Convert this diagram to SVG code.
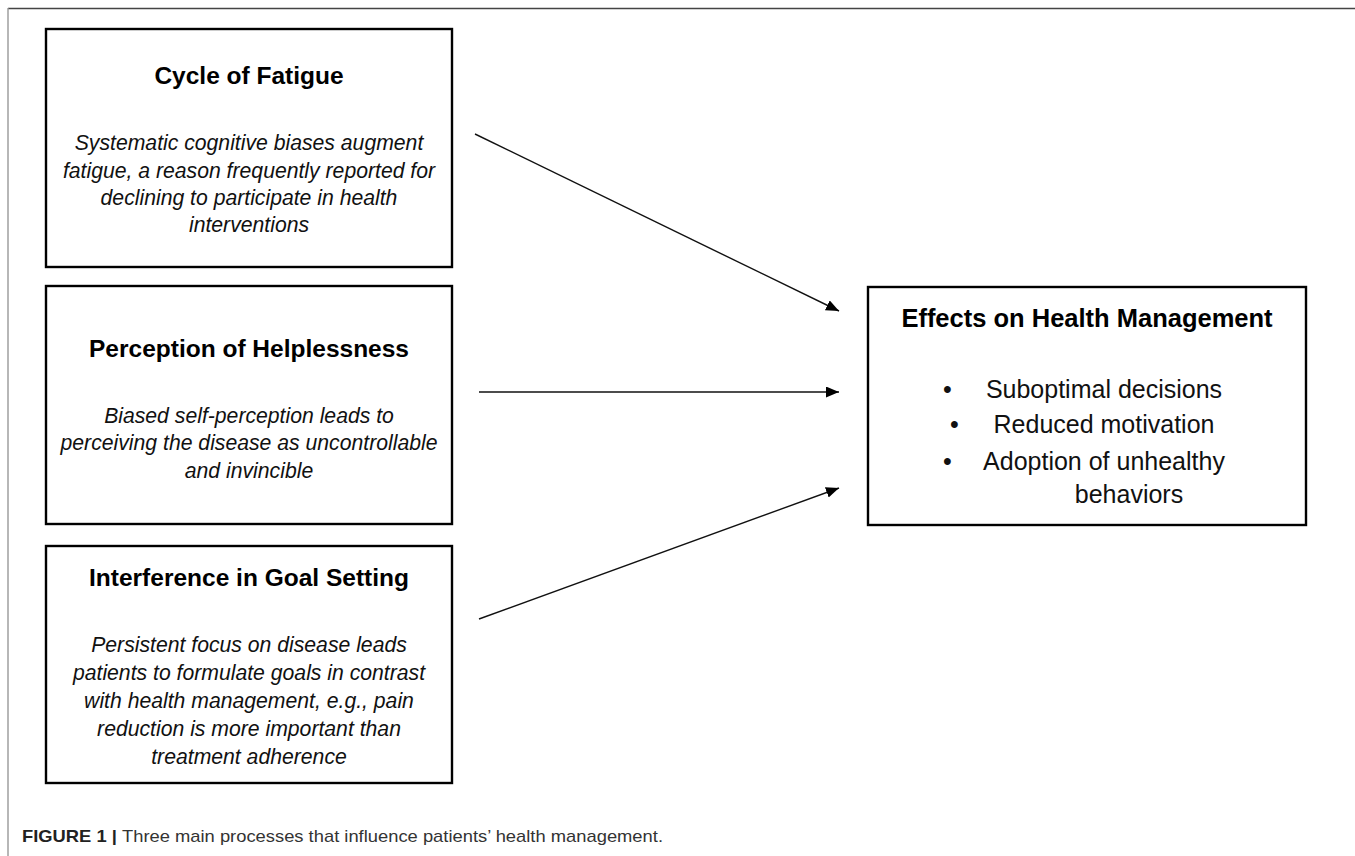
<svg xmlns="http://www.w3.org/2000/svg" width="1355" height="856" viewBox="0 0 1355 856">
<style>
.box{fill:#fff;stroke:#000;stroke-width:2.4}
.t{font-family:"Liberation Sans",Arial,sans-serif;font-weight:bold;font-size:24.5px;fill:#000;text-anchor:middle}
.i{font-family:"Liberation Sans",Arial,sans-serif;font-style:italic;font-size:21.2px;fill:#111;text-anchor:middle}
.b{font-family:"Liberation Sans",Arial,sans-serif;font-size:25px;fill:#111;text-anchor:middle}
.bul{font-family:"Liberation Sans",Arial,sans-serif;font-size:25px;fill:#111}
.conn{stroke:#111;stroke-width:1.4;fill:none;marker-end:url(#ah)}
.cap{font-family:"Liberation Sans",Arial,sans-serif;font-size:17px;fill:#333}
</style>
<defs>
<marker id="ah" markerUnits="userSpaceOnUse" markerWidth="15" markerHeight="12" refX="13" refY="5.5" orient="auto">
<path d="M0,0 L13,5.5 L0,11 z" fill="#000"/>
</marker>
</defs>
<rect width="1355" height="856" fill="#fff"/>
<g id="frame">
<line x1="8" y1="8.5" x2="1355" y2="8.5" stroke="#444" stroke-width="1.6"/>
<line x1="8" y1="8" x2="8" y2="856" stroke="#999" stroke-width="1.4"/>
</g>
<g id="cycle-of-fatigue">
<rect class="box" x="46" y="29" width="406" height="238"/>
<text class="t" x="249" y="84">Cycle of Fatigue</text>
<text class="i" x="249" y="150">Systematic cognitive biases augment</text>
<text class="i" x="249" y="178">fatigue, a reason frequently reported for</text>
<text class="i" x="249" y="205">declining to participate in health</text>
<text class="i" x="249" y="232">interventions</text>
</g>
<g id="perception-of-helplessness">
<rect class="box" x="46" y="286" width="406" height="238"/>
<text class="t" x="249" y="357">Perception of Helplessness</text>
<text class="i" x="249" y="423">Biased self-perception leads to</text>
<text class="i" x="249" y="450">perceiving the disease as uncontrollable</text>
<text class="i" x="249" y="478">and invincible</text>
</g>
<g id="interference-in-goal-setting">
<rect class="box" x="46" y="546" width="406" height="237"/>
<text class="t" x="249" y="586">Interference in Goal Setting</text>
<text class="i" x="249" y="652">Persistent focus on disease leads</text>
<text class="i" x="249" y="680">patients to formulate goals in contrast</text>
<text class="i" x="249" y="708">with health management, e.g., pain</text>
<text class="i" x="249" y="736">reduction is more important than</text>
<text class="i" x="249" y="764">treatment adherence</text>
</g>
<g id="effects-on-health-management">
<rect class="box" x="868" y="287" width="438" height="238"/>
<text class="t" x="1087" y="327" style="font-size:25.5px">Effects on Health Management</text>
<text class="bul" x="943" y="398">•</text>
<text class="b" x="1104" y="398">Suboptimal decisions</text>
<text class="bul" x="950" y="433">•</text>
<text class="b" x="1104" y="433">Reduced motivation</text>
<text class="bul" x="943" y="470">•</text>
<text class="b" x="1104" y="470">Adoption of unhealthy</text>
<text class="b" x="1129" y="503">behaviors</text>
</g>
<g id="connectors">
<line class="conn" x1="475" y1="134" x2="839" y2="311"/>
<line class="conn" x1="479" y1="392" x2="839" y2="392"/>
<line class="conn" x1="479" y1="619" x2="839" y2="488"/>
</g>
<g id="caption">
<text class="cap" x="22" y="842" textLength="641" lengthAdjust="spacingAndGlyphs"><tspan font-weight="bold" fill="#222">FIGURE 1 | </tspan>Three main processes that influence patients’ health management.</text>
</g>
</svg>
